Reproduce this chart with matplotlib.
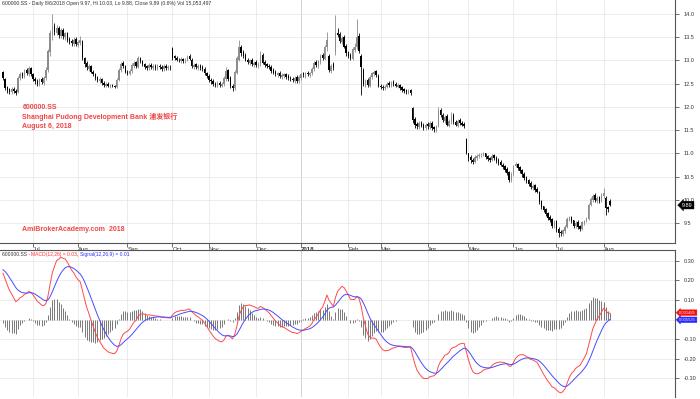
import matplotlib.pyplot as plt

plt.rcParams['font.family'] = ['Liberation Sans', 'Noto Sans CJK SC', 'DejaVu Sans']

# daily bars 600000.SS, mid Jun 2017 .. 6 Aug 2018
opens = [
    12.75, 12.60, 12.42, 12.38, 12.32, 12.38, 12.35, 12.32, 12.62, 12.72,
    12.66, 12.80, 12.70, 12.84, 12.70, 12.60, 12.56, 12.50, 12.60, 12.52,
    12.62, 12.80, 13.18, 13.55, 13.74, 13.60, 13.70, 13.52, 13.66, 13.50,
    13.58, 13.46, 13.42, 13.36, 13.46, 13.34, 13.38, 13.42, 13.05, 12.94,
    12.82, 12.88, 12.76, 12.70, 12.64, 12.56, 12.60, 12.52, 12.46, 12.50,
    12.44, 12.48, 12.46, 12.44, 12.58, 12.80, 12.94, 12.88, 12.76, 12.70,
    12.78, 12.88, 12.96, 12.86, 13.06, 12.98, 12.92, 12.88, 12.84, 12.90,
    12.84, 12.88, 12.84, 12.88, 12.86, 12.82, 12.88, 12.84, 12.87, 13.27,
    13.10, 13.06, 13.02, 12.98, 13.04, 12.98, 13.02, 13.10, 13.02, 12.86,
    12.92, 12.84, 12.88, 12.86, 12.82, 12.72, 12.66, 12.58, 12.56, 12.50,
    12.46, 12.52, 12.46, 12.50, 12.60, 12.80, 12.62, 12.46, 12.40, 12.74,
    13.02, 13.30, 13.18, 13.12, 13.02, 12.94, 13.02, 12.90, 12.96, 12.88,
    12.92, 13.12, 12.96, 12.92, 12.88, 12.86, 12.80, 12.76, 12.68, 12.74,
    12.64, 12.66, 12.70, 12.66, 12.62, 12.60, 12.56, 12.64, 12.56, 12.62,
    12.72, 12.66, 12.74, 12.68, 12.72, 12.82, 12.96, 12.88, 12.96, 13.12,
    13.04, 13.28, 13.10, 12.78, 12.92, 13.18, 13.60, 13.56, 13.40, 13.50,
    13.32, 13.16, 13.12, 13.04, 13.22, 13.28, 13.52, 13.10, 12.80, 12.48,
    12.58, 12.46, 12.64, 12.70, 12.78, 12.66, 12.46, 12.44, 12.40, 12.44,
    12.52, 12.46, 12.54, 12.50, 12.44, 12.48, 12.42, 12.38, 12.36, 12.30,
    12.36, 11.98, 11.74, 11.64, 11.56, 11.66, 11.62, 11.54, 11.64, 11.56,
    11.66, 11.56, 11.50, 11.60, 11.94, 11.82, 11.70, 11.80, 11.60, 11.68,
    11.82, 11.68, 11.60, 11.72, 11.66, 11.64, 11.32, 11.00, 10.92, 10.86,
    10.82, 10.90, 10.94, 10.96, 10.97, 11.00, 10.94, 10.90, 10.86, 10.96,
    10.90, 10.86, 10.82, 10.76, 10.72, 10.66, 10.60, 10.42, 10.56, 10.74,
    10.78, 10.70, 10.64, 10.56, 10.50, 10.42, 10.36, 10.26, 10.32, 10.24,
    10.18, 9.98, 9.86, 9.80, 9.72, 9.64, 9.60, 9.44, 9.54, 9.38,
    9.32, 9.26, 9.34, 9.42, 9.58, 9.64, 9.56, 9.44, 9.52, 9.44,
    9.38, 9.50, 9.56, 9.60, 9.90, 10.00, 10.10, 9.98, 10.06, 9.98,
    10.08, 10.05, 9.84, 9.97,
]
highs = [
    12.78, 12.62, 12.45, 12.40, 12.42, 12.42, 12.38, 12.66, 12.76, 12.76,
    12.82, 12.84, 12.88, 12.86, 12.74, 12.64, 12.60, 12.62, 12.64, 12.66,
    12.85, 13.25, 13.65, 14.00, 13.80, 13.76, 13.74, 13.70, 13.70, 13.62,
    13.62, 13.50, 13.46, 13.50, 13.50, 13.45, 13.52, 13.45, 13.08, 12.98,
    12.92, 12.90, 12.80, 12.72, 12.66, 12.64, 12.62, 12.55, 12.54, 12.54,
    12.50, 12.50, 12.48, 12.62, 12.84, 12.96, 12.98, 12.90, 12.80, 12.82,
    12.94, 12.98, 12.98, 13.10, 13.08, 13.00, 12.95, 12.90, 12.94, 12.94,
    12.92, 12.92, 12.92, 12.92, 12.90, 12.92, 12.92, 12.90, 12.90, 13.30,
    13.12, 13.10, 13.06, 13.08, 13.06, 13.06, 13.12, 13.14, 13.05, 12.94,
    12.95, 12.92, 12.92, 12.90, 12.85, 12.75, 12.70, 12.62, 12.60, 12.54,
    12.56, 12.56, 12.54, 12.66, 12.85, 12.82, 12.66, 12.50, 12.80, 13.10,
    13.44, 13.34, 13.22, 13.16, 13.06, 13.04, 13.06, 12.98, 13.00, 12.96,
    13.20, 13.15, 13.00, 12.95, 12.92, 12.90, 12.84, 12.80, 12.76, 12.78,
    12.72, 12.74, 12.74, 12.70, 12.66, 12.64, 12.66, 12.68, 12.68, 12.74,
    12.76, 12.76, 12.78, 12.76, 12.86, 12.98, 13.00, 13.02, 13.14, 13.16,
    13.34, 13.62, 13.14, 12.92, 12.96, 13.98, 13.70, 13.62, 13.52, 13.54,
    13.36, 13.20, 13.16, 13.30, 13.38, 13.90, 13.58, 13.14, 12.84, 12.60,
    12.62, 12.68, 12.76, 12.80, 12.80, 12.70, 12.50, 12.48, 12.48, 12.54,
    12.55, 12.56, 12.58, 12.54, 12.52, 12.50, 12.45, 12.40, 12.38, 12.38,
    12.38, 12.00, 11.78, 11.68, 11.70, 11.70, 11.66, 11.66, 11.68, 11.70,
    11.70, 11.60, 11.62, 12.00, 11.98, 11.86, 11.82, 11.84, 11.74, 11.90,
    11.86, 11.72, 11.74, 11.76, 11.70, 11.68, 11.34, 11.02, 10.96, 10.90,
    10.96, 10.99, 11.00, 11.01, 11.04, 11.02, 10.96, 10.92, 10.98, 10.99,
    10.94, 10.90, 10.85, 10.80, 10.75, 10.70, 10.62, 10.60, 10.76, 10.82,
    10.80, 10.72, 10.66, 10.60, 10.52, 10.45, 10.40, 10.34, 10.35, 10.28,
    10.20, 10.00, 9.88, 9.82, 9.75, 9.68, 9.62, 9.56, 9.58, 9.42,
    9.36, 9.38, 9.46, 9.64, 9.66, 9.66, 9.58, 9.54, 9.56, 9.46,
    9.55, 9.58, 9.64, 9.94, 10.06, 10.12, 10.14, 10.08, 10.08, 10.14,
    10.26, 10.08, 9.88, 10.03,
]
lows = [
    12.58, 12.36, 12.30, 12.28, 12.28, 12.30, 12.25, 12.30, 12.58, 12.62,
    12.62, 12.68, 12.66, 12.66, 12.56, 12.50, 12.46, 12.46, 12.50, 12.48,
    12.58, 12.76, 13.10, 13.45, 13.55, 13.55, 13.48, 13.48, 13.46, 13.45,
    13.40, 13.35, 13.32, 13.32, 13.32, 13.30, 13.34, 13.00, 12.86, 12.80,
    12.78, 12.72, 12.66, 12.58, 12.54, 12.52, 12.48, 12.44, 12.42, 12.42,
    12.40, 12.42, 12.40, 12.40, 12.55, 12.76, 12.84, 12.72, 12.68, 12.68,
    12.74, 12.84, 12.84, 12.84, 12.94, 12.88, 12.82, 12.80, 12.80, 12.82,
    12.80, 12.80, 12.80, 12.82, 12.78, 12.78, 12.80, 12.80, 12.80, 13.02,
    13.00, 12.98, 12.96, 12.95, 12.94, 12.95, 12.98, 13.00, 12.84, 12.82,
    12.82, 12.80, 12.80, 12.78, 12.68, 12.62, 12.54, 12.50, 12.46, 12.44,
    12.42, 12.43, 12.42, 12.46, 12.56, 12.56, 12.40, 12.34, 12.36, 12.70,
    12.98, 13.10, 13.05, 12.98, 12.92, 12.90, 12.88, 12.86, 12.86, 12.84,
    12.88, 12.92, 12.86, 12.84, 12.82, 12.74, 12.70, 12.66, 12.64, 12.62,
    12.60, 12.62, 12.60, 12.58, 12.56, 12.54, 12.52, 12.52, 12.52, 12.58,
    12.64, 12.62, 12.66, 12.64, 12.68, 12.78, 12.86, 12.84, 12.92, 13.00,
    13.00, 13.20, 12.76, 12.72, 12.80, 13.12, 13.50, 13.38, 13.36, 13.26,
    13.10, 13.05, 13.00, 13.00, 13.18, 13.24, 13.15, 12.25, 12.45, 12.42,
    12.44, 12.42, 12.60, 12.66, 12.64, 12.42, 12.38, 12.36, 12.36, 12.40,
    12.44, 12.42, 12.46, 12.42, 12.40, 12.36, 12.32, 12.30, 12.28, 12.27,
    12.26, 11.66, 11.55, 11.52, 11.52, 11.56, 11.50, 11.50, 11.52, 11.52,
    11.50, 11.46, 11.46, 11.56, 11.78, 11.68, 11.66, 11.58, 11.56, 11.64,
    11.64, 11.58, 11.56, 11.62, 11.58, 11.54, 10.98, 10.84, 10.80, 10.78,
    10.80, 10.86, 10.90, 10.92, 10.94, 10.88, 10.84, 10.82, 10.84, 10.86,
    10.80, 10.76, 10.72, 10.66, 10.60, 10.54, 10.38, 10.38, 10.52, 10.70,
    10.64, 10.58, 10.50, 10.44, 10.36, 10.30, 10.24, 10.22, 10.18, 10.14,
    9.92, 9.80, 9.74, 9.66, 9.58, 9.52, 9.40, 9.40, 9.32, 9.20,
    9.22, 9.22, 9.30, 9.40, 9.54, 9.50, 9.40, 9.40, 9.38, 9.34,
    9.36, 9.46, 9.52, 9.58, 9.86, 9.96, 9.96, 9.94, 9.94, 9.95,
    10.04, 9.68, 9.74, 9.88,
]
closes = [
    12.62, 12.40, 12.36, 12.33, 12.38, 12.34, 12.30, 12.62, 12.70, 12.66,
    12.78, 12.72, 12.84, 12.70, 12.60, 12.55, 12.50, 12.58, 12.54, 12.62,
    12.80, 13.20, 13.60, 13.72, 13.62, 13.70, 13.55, 13.65, 13.52, 13.58,
    13.45, 13.40, 13.38, 13.45, 13.36, 13.40, 13.45, 13.05, 12.92, 12.85,
    12.88, 12.76, 12.70, 12.62, 12.58, 12.60, 12.52, 12.48, 12.50, 12.46,
    12.47, 12.45, 12.44, 12.58, 12.80, 12.92, 12.88, 12.75, 12.72, 12.78,
    12.90, 12.95, 12.88, 13.05, 12.98, 12.92, 12.86, 12.84, 12.90, 12.86,
    12.88, 12.84, 12.88, 12.86, 12.82, 12.88, 12.84, 12.86, 12.85, 13.06,
    13.05, 13.02, 13.00, 13.04, 12.98, 13.02, 13.08, 13.04, 12.88, 12.90,
    12.86, 12.88, 12.84, 12.82, 12.72, 12.66, 12.58, 12.55, 12.50, 12.48,
    12.52, 12.47, 12.50, 12.62, 12.78, 12.60, 12.45, 12.40, 12.75, 13.05,
    13.30, 13.15, 13.10, 13.02, 12.96, 13.00, 12.92, 12.95, 12.90, 12.93,
    13.10, 12.95, 12.90, 12.88, 12.85, 12.78, 12.74, 12.70, 12.72, 12.66,
    12.68, 12.70, 12.64, 12.62, 12.60, 12.58, 12.62, 12.56, 12.64, 12.70,
    12.68, 12.72, 12.70, 12.72, 12.82, 12.95, 12.90, 12.98, 13.10, 13.05,
    13.30, 13.45, 12.80, 12.88, 12.85, 13.58, 13.55, 13.42, 13.48, 13.30,
    13.15, 13.10, 13.05, 13.25, 13.30, 13.50, 13.20, 12.85, 12.50, 12.55,
    12.48, 12.65, 12.72, 12.76, 12.68, 12.45, 12.42, 12.40, 12.44, 12.50,
    12.48, 12.52, 12.50, 12.46, 12.48, 12.40, 12.36, 12.34, 12.32, 12.34,
    12.30, 11.72, 11.62, 11.58, 11.65, 11.60, 11.55, 11.62, 11.58, 11.65,
    11.55, 11.52, 11.58, 11.92, 11.82, 11.72, 11.78, 11.62, 11.70, 11.80,
    11.68, 11.62, 11.70, 11.66, 11.62, 11.58, 11.02, 10.90, 10.85, 10.82,
    10.92, 10.95, 10.97, 10.98, 11.00, 10.92, 10.88, 10.86, 10.95, 10.90,
    10.84, 10.80, 10.75, 10.70, 10.64, 10.58, 10.42, 10.55, 10.72, 10.78,
    10.68, 10.62, 10.55, 10.48, 10.40, 10.35, 10.28, 10.30, 10.22, 10.18,
    9.95, 9.85, 9.78, 9.70, 9.62, 9.58, 9.45, 9.52, 9.36, 9.30,
    9.28, 9.35, 9.42, 9.60, 9.62, 9.55, 9.45, 9.50, 9.42, 9.38,
    9.52, 9.55, 9.60, 9.90, 10.02, 10.08, 10.00, 10.05, 9.98, 10.10,
    10.15, 9.82, 9.80, 9.89,
]

# bar index where each month starts
month_bars = [14, 35, 58, 79, 96, 118, 139, 161, 176, 198, 217, 238, 258, 280]
month_names = ['Jul', 'Aug', 'Sep', 'Oct', 'Nov', 'Dec', '2018',
               'Feb', 'Mar', 'Apr', 'May', 'Jun', 'Jul', 'Aug']

price_ticks = [9.5, 10.0, 10.5, 11.0, 11.5, 12.0, 12.5, 13.0, 13.5, 14.0]
macd_ticks = [-0.3, -0.2, -0.1, 0.1, 0.2, 0.3]

# last values as printed on the chart
macd_last = 0.031485
signal_last = 0.005525

# EMA state carried in from before the first bar shown
ema12_start = 12.55
ema26_start = 12.30
signal_start = 0.26


def ema(values, span, start):
    k = 2.0 / (span + 1)
    out = []
    prev = start
    for v in values:
        prev += k * (v - prev)
        out.append(prev)
    return out


fast = ema(closes, 12, ema12_start)
slow = ema(closes, 26, ema26_start)
macd = [f - s for f, s in zip(fast, slow)]
signal = ema(macd, 9, signal_start)
hist = [m - s for m, s in zip(macd, signal)]

bars = list(range(len(closes)))
colors = ['#8c8c8c' if c >= o else 'black' for o, c in zip(opens, closes)]
body_low = [min(o, c) for o, c in zip(opens, closes)]
body_h = [max(abs(c - o), 0.015) for o, c in zip(opens, closes)]

fig = plt.figure(figsize=(7, 3.99), dpi=100)
ax = fig.add_axes([0, 0.391, 0.9643, 0.609])
ax2 = fig.add_axes([0, 0.005, 0.9643, 0.3684], sharex=ax)

grid_c = '#e4e4e4'
axis_c = '#555555'
lab_c = '#333333'

# price pane
ax.vlines(bars, lows, highs, colors=colors, lw=0.6, zorder=3)
ax.bar(bars, body_h, bottom=body_low, width=0.68, color=colors, lw=0, zorder=3)
ax.set_xlim(-1.4, 313.3)
ax.set_ylim(9.075, 14.30)
ax.yaxis.tick_right()
ax.set_yticks(price_ticks)
ax.set_yticklabels(['%.1f' % t for t in price_ticks])
ax.set_xticks(month_bars)
ax.set_xticklabels(month_names, ha='left')
ax.get_xticklabels()[6].set_fontweight('bold')
ax.tick_params(axis='x', length=3, width=0.5, pad=0.2, labelsize=4.3, colors=lab_c)
ax.tick_params(axis='y', length=3, width=0.5, pad=3, labelsize=4, colors=lab_c)
ax.grid(color=grid_c, lw=0.5, zorder=0)
ax.axvline(139, color='#a0a0a0', lw=0.6, zorder=1)
for side in ['top', 'left']:
    ax.spines[side].set_visible(False)
for side in ['right', 'bottom']:
    ax.spines[side].set_color(axis_c)
    ax.spines[side].set_linewidth(0.8)

ax.text(0.003, 0.997,
        '600000.SS - Daily 8/6/2018 Open 9.97, Hi 10.03, Lo 9.88, Close 9.89 (0.6%) Vol 15,053,497',
        transform=ax.transAxes, fontsize=3.7, va='top', color='#333333')
red = '#f04646'
ax.text(0.033, 0.574, '600000.SS\nShanghai Pudong Development Bank 浦发银行\nAugust 6, 2018',
        transform=ax.transAxes, fontsize=5.0, fontweight='bold', color=red,
        va='top', linespacing=1.35)
ax.text(0.033, 0.07, 'AmiBrokerAcademy.com  2018', transform=ax.transAxes,
        fontsize=5.0, fontweight='bold', color=red, va='top')
ax.annotate('9.89', xy=(1, closes[-1]), xycoords=('axes fraction', 'data'),
            xytext=(5, 0), textcoords='offset points', fontsize=4, color='white',
            va='center', ha='left', annotation_clip=False,
            bbox=dict(boxstyle='larrow,pad=0.25', fc='black', ec='black', lw=0.3))

# MACD pane
ax2.vlines(bars, 0, hist, colors='#555555', lw=0.55, zorder=2)
ax2.plot(bars, macd, color='#ff4a4a', lw=0.7, zorder=3)
ax2.plot(bars, signal, color='#4a4aff', lw=0.7, zorder=3)
ax2.set_ylim(-0.397, 0.356)
ax2.yaxis.tick_right()
ax2.set_yticks(macd_ticks)
ax2.set_yticklabels(['%.2f' % t for t in macd_ticks])
ax2.tick_params(axis='y', length=3, width=0.5, pad=3, labelsize=4, colors=lab_c)
ax2.tick_params(axis='x', bottom=False, labelbottom=False)
ax2.grid(color=grid_c, lw=0.5, zorder=0)
ax2.axhline(0, color=grid_c, lw=0.5, zorder=0)
ax2.axvline(139, color='#a0a0a0', lw=0.6, zorder=1)
for side in ['bottom', 'left']:
    ax2.spines[side].set_visible(False)
for side in ['right', 'top']:
    ax2.spines[side].set_color(axis_c)
    ax2.spines[side].set_linewidth(0.8)

ax2.annotate('%.6f' % macd_last, xy=(1, macd_last), xycoords=('axes fraction', 'data'),
             xytext=(3, 0.5), textcoords='offset points', fontsize=3.0, color='#ffdddd',
             va='center', ha='left', annotation_clip=False, zorder=5,
             bbox=dict(boxstyle='larrow,pad=0.2', fc='#ee1111', ec='#ee1111', lw=0.3))
ax2.annotate('%.6f' % signal_last, xy=(1, signal_last), xycoords=('axes fraction', 'data'),
             xytext=(3, -1.0), textcoords='offset points', fontsize=3.0, color='#dde0ff',
             va='center', ha='left', annotation_clip=False, zorder=4,
             bbox=dict(boxstyle='larrow,pad=0.2', fc='#2a2aff', ec='#2a2aff', lw=0.3))

# coloured MACD title, pieces placed one after another
parts = [('600000.SS - ', '#333333'),
         ('MACD(12,26) = %.2f' % macd_last, '#ff3030'),
         (', ', '#333333'),
         ('Signal(12,26,9) = %.2f' % signal_last, '#3030ff')]
t = ax2.text(0.003, 0.985, parts[0][0], color=parts[0][1], fontsize=3.6,
             transform=ax2.transAxes, va='top')
for s, c in parts[1:]:
    t = ax2.annotate(s, xy=(1, 0), xycoords=t, color=c, fontsize=3.6, va='bottom')

fig.savefig('out.png', dpi=100)
